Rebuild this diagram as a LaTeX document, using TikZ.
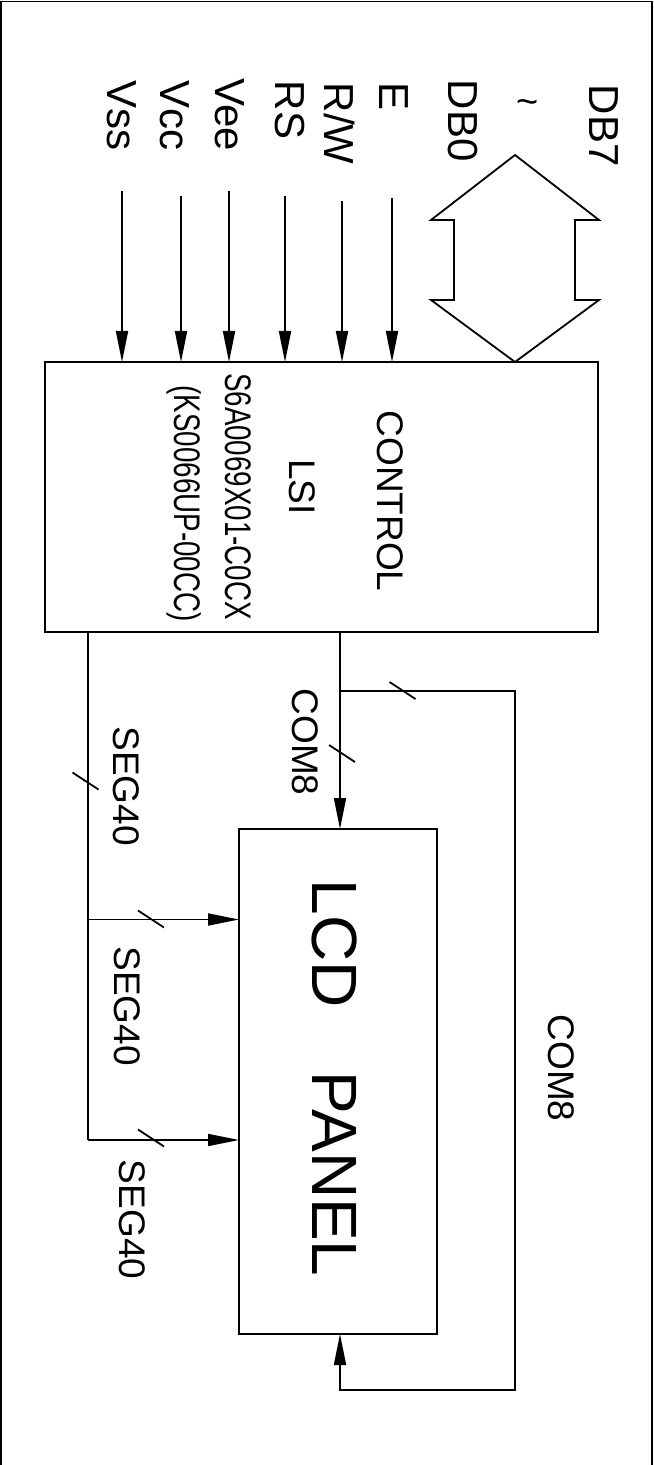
\documentclass[tikz,border=0pt]{standalone}
\usepackage{fontspec}
\setmainfont{Liberation Sans}
\newfontfamily\narrowfont[FakeStretch=0.75]{Liberation Sans}
\usepackage{tikz}
\usetikzlibrary{arrows.meta,calc}
\tikzstyle{tsPin} = [
    rotate=-90,
    anchor=west,
    inner sep=0pt,
    font=\fontsize{21}{21}\selectfont
]
\tikzstyle{tsBus} = [
    rotate=-90,
    inner sep=0pt,
    font=\fontsize{18.5}{18.5}\selectfont
]
\tikzstyle{tsChip} = [
    tsBus,
    font=\narrowfont\fontsize{18.5}{18.5}\selectfont
]
\tikzstyle{tsRectangle} = [
    rectangle,
    draw=black,
    line width=0.9pt,
    outer sep=0pt
]
\tikzstyle{tsFeed} = [
    line width=0.9pt,
    -{Triangle[length=15.5pt,width=6pt]}
]

\begin{document}
\begin{tikzpicture}[x=0.5pt, y=-0.5pt, line width=0.9pt]

        \useasboundingbox (0,0) rectangle (653,1465);
        % frame, open at the bottom
        \draw (1,1465) -- (1,1.5) -- (652,1.5) -- (652,1465);

        \node[  tsRectangle,
                minimum width=276.5pt,
                minimum height=135pt] (ctrl) at (321.5,497) { };
        \node[  tsRectangle,
                minimum width=99pt,
                minimum height=252.5pt] (lcd) at (338,1081.5) { };

        % pin names
        \node[tsPin] (vss) at (122,80) {Vss};
        \node[tsPin] (vcc) at (175,80) {Vcc};
        \node[tsPin] (vee) at (230,78) {Vee};
        \node[tsPin] (rs) at (290,80) {RS};
        \node[tsPin] (rw) at (340,82) {R/W};
        \node[tsPin] (en) at (394,82) {E};
        \node[tsPin] (db0) at (462.5,79) {DB0};
        \node[tsPin] (db7) at (603.5,84) {DB7};
        \node[inner sep=0pt, font=\fontsize{19}{19}\selectfont] (tilde) at (528,107.5) {\textasciitilde};

        \foreach \px/\py/\nm in {122/191/vssIn, 181/196/vccIn, 229/191/veeIn,
                                 285/196/rsIn, 342/201/rwIn, 392/198/eIn}
        {
            \coordinate (\nm) at (\px,\py);
            \draw[tsFeed] (\nm) -- (\nm |- ctrl.north);
        }

        % data bus
        \draw (515,155) -- (599,220) -- (575,220) -- (575,300) -- (599,300)
           -- (515,362) -- (431,300) -- (454,300) -- (454,220) -- (431,220) -- cycle;

        \node[tsBus] (ctrlA) at (390.5,501) {CONTROL};
        \node[tsBus] (ctrlB) at (302,487) {LSI};
        \node[tsChip] (ctrlC) at (238.5,496.5) {S6A0069X01-C0CX};
        \node[tsChip] (ctrlD) at (184,503.5) {(KS0066UP-00CC)};

        \node[rotate=-90, inner sep=0pt, font=\fontsize{32}{32}\selectfont] (lcdText) at (335,1078) {LCD\quad PANEL};

        % common lines
        \coordinate (comOut) at (340,0 |- ctrl.south);
        \coordinate (comJ) at (340,691);
        \coordinate (loopA) at (515,691);
        \coordinate (loopB) at (515,1390);
        \coordinate (loopC) at (340,1390);
        \draw[tsFeed] (comOut) -- (comOut |- lcd.north);
        \draw[tsFeed] (comJ) -- (loopA) -- (loopB) -- (loopC) -- (loopC |- lcd.south);

        % segment lines
        \coordinate (segOut) at (88,0 |- ctrl.south);
        \coordinate (segJa) at (88,919.5);
        \coordinate (segJb) at (88,1140);
        \draw (segOut) -- (segJb);
        \draw[tsFeed] (segJa) -- (segJa -| lcd.west);
        \draw[tsFeed] (segJb) -- (segJb -| lcd.west);

        \foreach \tx/\ty in {402.5/690.5, 342/753.5, 85.5/781, 151/919, 151/1138}
            \draw (\tx,\ty) ++(-13,-8.5) -- ++(26,17);

        \node[tsBus] (comL) at (305,742) {COM8};
        \node[tsBus] (segA) at (126,786) {SEG40};
        \node[tsBus] (segB) at (127.5,1006) {SEG40};
        \node[tsBus] (segC) at (132.7,1219.5) {SEG40};
        \node[tsBus] (comR) at (561,1068) {COM8};

\end{tikzpicture}
\end{document}
